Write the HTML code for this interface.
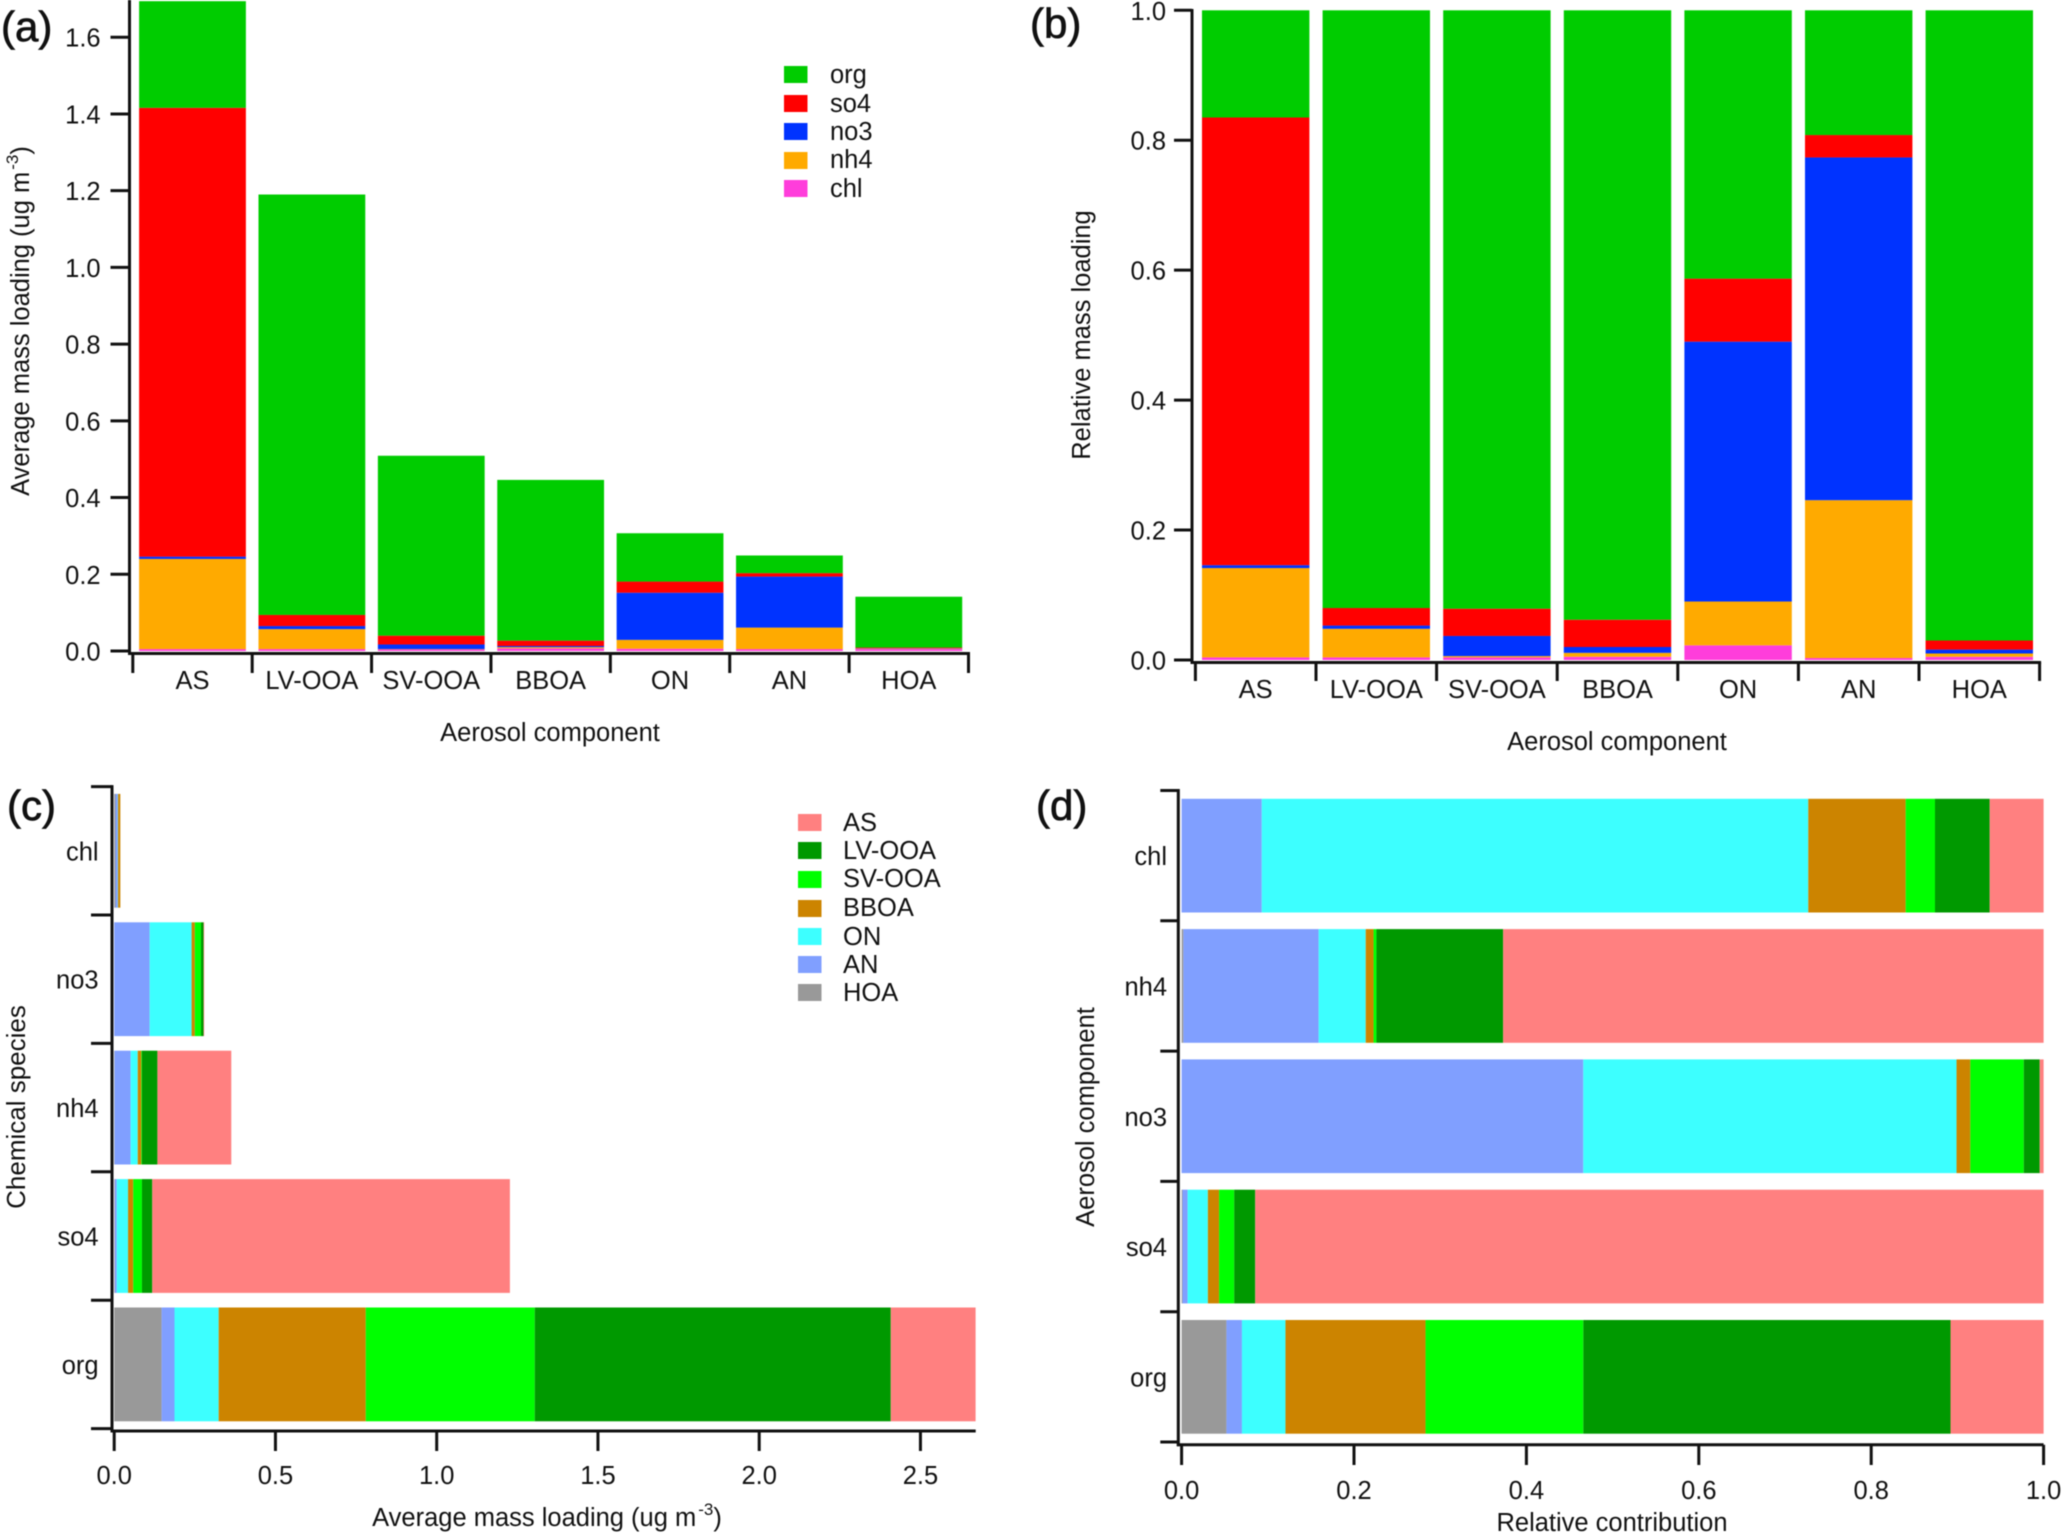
<!DOCTYPE html>
<html>
<head>
<meta charset="utf-8">
<title>Aerosol mass loading charts</title>
<style>
html,body{margin:0;padding:0;background:#fff;}
svg{display:block;filter:blur(0.6px);}
text{font-family:"Liberation Sans",sans-serif;fill:#111;}
.panel-tag{stroke:#111;stroke-width:0.7px;}
</style>
</head>
<body>
<svg id="figure" xmlns="http://www.w3.org/2000/svg" width="2062" height="1534" viewBox="0 0 2062 1534">
<rect x="0" y="0" width="2062" height="1534" fill="#ffffff"/>
<g id="marks"></g>

<text class="panel-tag" x="1" y="41" font-size="42">(a)</text>
<text class="panel-tag" x="1030" y="38" font-size="42">(b)</text>
<text class="panel-tag" x="7" y="820" font-size="42">(c)</text>
<text class="panel-tag" x="1036" y="820" font-size="42">(d)</text>

<text transform="translate(29,321) rotate(-90)" text-anchor="middle" font-size="25.5">Average mass loading (ug m<tspan font-size="17" dx="2" dy="-11">-3</tspan><tspan dy="11">)</tspan></text>
<text x="550" y="741" text-anchor="middle" font-size="25.5">Aerosol component</text>
<text transform="translate(1090,335) rotate(-90)" text-anchor="middle" font-size="25.5">Relative mass loading</text>
<text x="1617" y="750" text-anchor="middle" font-size="25.5">Aerosol component</text>
<text transform="translate(25,1107) rotate(-90)" text-anchor="middle" font-size="26">Chemical species</text>
<text x="547" y="1526" text-anchor="middle" font-size="25.5">Average mass loading (ug m<tspan font-size="17" dx="2" dy="-11">-3</tspan><tspan dy="11">)</tspan></text>
<text transform="translate(1094,1117) rotate(-90)" text-anchor="middle" font-size="25.5">Aerosol component</text>
<text x="1612" y="1531" text-anchor="middle" font-size="25.5">Relative contribution</text>

<g font-size="25.5">
  <g><rect x="784" y="66" width="23.5" height="17" fill="#00cc00"/><text x="830" y="83">org</text></g>
  <g><rect x="784" y="95" width="23.5" height="17" fill="#ff0000"/><text x="830" y="112">so4</text></g>
  <g><rect x="784" y="123" width="23.5" height="17" fill="#0033ff"/><text x="830" y="140">no3</text></g>
  <g><rect x="784" y="152" width="23.5" height="17" fill="#ffaa00"/><text x="830" y="168">nh4</text></g>
  <g><rect x="784" y="180" width="23.5" height="17" fill="#ff3ddb"/><text x="830" y="197">chl</text></g>
</g>
<g font-size="25.5">
  <g><rect x="798" y="814" width="23.5" height="17" fill="#ff8080"/><text x="843" y="831">AS</text></g>
  <g><rect x="798" y="842" width="23.5" height="17" fill="#009900"/><text x="843" y="859">LV-OOA</text></g>
  <g><rect x="798" y="871" width="23.5" height="17" fill="#00ff00"/><text x="843" y="887">SV-OOA</text></g>
  <g><rect x="798" y="900" width="23.5" height="17" fill="#cc8400"/><text x="843" y="916">BBOA</text></g>
  <g><rect x="798" y="928" width="23.5" height="17" fill="#3dffff"/><text x="843" y="945">ON</text></g>
  <g><rect x="798" y="956" width="23.5" height="17" fill="#809fff"/><text x="843" y="973">AN</text></g>
  <g><rect x="798" y="984" width="23.5" height="17" fill="#999999"/><text x="843" y="1001">HOA</text></g>
</g>
</svg>
<script>
// Category labels
const componentCategories = ['AS', 'LV-OOA', 'SV-OOA', 'BBOA', 'ON', 'AN', 'HOA'];
const speciesCategoriesC = ['chl', 'no3', 'nh4', 'so4', 'org'];
const speciesCategoriesD = ['chl', 'nh4', 'no3', 'so4', 'org'];

// Tick labels
const aTicks = [0, 0.2, 0.4, 0.6, 0.8, 1.0, 1.2, 1.4, 1.6];
const bTicks = [0, 0.2, 0.4, 0.6, 0.8, 1.0];
const cTicks = [0, 0.5, 1.0, 1.5, 2.0, 2.5];
const dTicks = [0, 0.2, 0.4, 0.6, 0.8, 1.0];

// Panel (a): mass loading per component, bottom to top
const aChl = [0.005, 0.005, 0.004, 0.007, 0.006, 0.005, 0.005];
const aNh4 = [0.235, 0.052, 0.001, 0.003, 0.023, 0.056, 0.001];
const aNo3 = [0.006, 0.008, 0.012, 0.003, 0.123, 0.133, 0.001];
const aSo4 = [1.17, 0.029, 0.023, 0.014, 0.029, 0.009, 0.002];
const aOrg = [0.278, 1.096, 0.469, 0.419, 0.126, 0.046, 0.1325];

// Panel (b): relative mass loading per component
const bChl = [0.004, 0.004, 0.004, 0.005, 0.0226, 0.003, 0.005];
const bNh4 = [0.1375, 0.044, 0.002, 0.006, 0.0674, 0.243, 0.005];
const bNo3 = [0.0045, 0.005, 0.031, 0.009, 0.4, 0.5275, 0.006];
const bSo4 = [0.689, 0.027, 0.042, 0.042, 0.097, 0.0345, 0.014];
const bOrg = [0.165, 0.92, 0.921, 0.938, 0.413, 0.192, 0.97];

// Panel (c): mass loading per species (chl, no3, nh4, so4, org), left to right
const cHoa = [0.004, 0, 0.001, 0.002, 0.147];
const cAn = [0.007, 0.11, 0.05, 0.006, 0.04];
const cOn = [0.001, 0.13, 0.022, 0.035, 0.137];
const cBboa = [0.007, 0.01, 0.011, 0.016, 0.456];
const cSv = [0, 0.019, 0.002, 0.027, 0.524];
const cLv = [0, 0.008, 0.048, 0.032, 1.104];
const cAs = [0, 0.002, 0.229, 1.109, 0.263];

// Panel (d): relative contribution per species (chl, nh4, no3, so4, org)
const dHoa = [0, 0.002, 0, 0.001, 0.052];
const dAn = [0.093, 0.157, 0.466, 0.006, 0.018];
const dOn = [0.634, 0.0546, 0.433, 0.0235, 0.0505];
const dBboa = [0.113, 0.0091, 0.016, 0.013, 0.1625];
const dSv = [0.034, 0.0033, 0.062, 0.0175, 0.183];
const dLv = [0.0635, 0.147, 0.0185, 0.0244, 0.426];
const dAs = [0.0625, 0.627, 0.0045, 0.9146, 0.108];

const NS = 'http://www.w3.org/2000/svg';
const root = document.getElementById('marks');
const INK = '#111';

function line(x1, y1, x2, y2, w, name) {
  const el = document.createElementNS(NS, 'line');
  el.setAttribute('x1', x1);
  el.setAttribute('y1', y1);
  el.setAttribute('x2', x2);
  el.setAttribute('y2', y2);
  el.setAttribute('stroke', INK);
  el.setAttribute('stroke-width', w);
  
  
  root.appendChild(el);
}
function label(x, y, str, anchor, name) {
  const el = document.createElementNS(NS, 'text');
  el.setAttribute('x', x);
  el.setAttribute('y', y);
  el.setAttribute('text-anchor', anchor);
  el.setAttribute('font-size', '25.5');
  el.textContent = str;
  
  
  root.appendChild(el);
}
function box(x, y, w, h, fill, name) {
  const el = document.createElementNS(NS, 'rect');
  el.setAttribute('x', x);
  el.setAttribute('y', y);
  el.setAttribute('width', Math.max(w, 0));
  el.setAttribute('height', Math.max(h, 0));
  el.setAttribute('fill', fill);
  
  
  root.appendChild(el);
}

// Vertical stacked bar panel (a, b)
function columnPanel(p) {
  const y = v => p.y0 - (v - 0) * p.yPerUnit;
  const step = (p.xEnd - p.xStart) / p.categories.length;
  p.categories.forEach((cat, i) => {
    let sum = 0;
    const left = p.xStart + step * i + p.inset;
    p.series.forEach(s => {
      const v = s.values[i];
      box(left, y(sum + v), step - 2 * p.inset, y(sum) - y(sum + v), s.color, p.id + '-bar-' + cat + '-' + s.name);
      sum += v;
    });
    line(p.xStart + step * i, p.axisY, p.xStart + step * i, p.tickEnd, 3, p.id + '-x-tick-' + i);
    label(p.xStart + step * (i + 0.5), p.labelY, cat, 'middle', p.id + '-x-label-' + cat);
  });
  line(p.xStart + step * p.categories.length, p.axisY, p.xStart + step * p.categories.length, p.tickEnd, 3, p.id + '-x-tick-end');
  line(p.axisX - 1.5, p.axisY, p.xStart + step * p.categories.length + 1.5, p.axisY, 3, p.id + '-x-axis');
  line(p.axisX, p.yTop, p.axisX, p.axisY + 1.5, 3, p.id + '-y-axis');
  p.ticks.forEach(t => {
    line(p.axisX - p.tickLen, y(t), p.axisX, y(t), 3, p.id + '-y-tick-' + t.toFixed(1));
    label(p.labelX, y(t) + 9.5, t.toFixed(1), 'end', p.id + '-y-label-' + t.toFixed(1));
  });
}

// Horizontal stacked bar panel (c, d)
function rowPanel(p) {
  const x = v => p.x0 + v * p.xPerUnit;
  const step = (p.yEnd - p.yStart) / p.categories.length;
  p.categories.forEach((cat, i) => {
    let sum = 0;
    const top = p.yStart + step * i + p.inset;
    p.series.forEach(s => {
      const v = s.values[i];
      box(x(sum), top, x(sum + v) - x(sum), step - 2 * p.inset, s.color, p.id + '-bar-' + cat + '-' + s.name);
      sum += v;
    });
    line(p.axisX - p.tickLen, p.yStart + step * i, p.axisX, p.yStart + step * i, 3, p.id + '-y-tick-' + i);
    label(p.labelX, p.yStart + step * (i + 0.5) + 9.5, cat, 'end', p.id + '-y-label-' + cat);
  });
  line(p.axisX - p.tickLen, p.yEnd, p.axisX, p.yEnd, 3, p.id + '-y-tick-end');
  line(p.axisX, p.yStart - 1.5, p.axisX, p.axisY + 1.5, 3, p.id + '-y-axis');
  line(p.axisX - 1.5, p.axisY, p.xRight, p.axisY, 3, p.id + '-x-axis');
  p.ticks.forEach(t => {
    line(x(t), p.axisY, x(t), p.tickEnd, 3, p.id + '-x-tick-' + t.toFixed(1));
    label(x(t), p.labelY, t.toFixed(1), 'middle', p.id + '-x-label-' + t.toFixed(1));
  });
}

const GREEN = '#00cc00', RED = '#ff0000', BLUE = '#0033ff', ORANGE = '#ffaa00', PINK = '#ff3ddb';
const ASC = '#ff8080', LVC = '#009900', SVC = '#00ff00', BBC = '#cc8400', ONC = '#3dffff', ANC = '#809fff', HOC = '#999999';

columnPanel({
  id: 'a', categories: componentCategories, ticks: aTicks,
  series: [
    {name: 'chl', color: PINK, values: aChl},
    {name: 'nh4', color: ORANGE, values: aNh4},
    {name: 'no3', color: BLUE, values: aNo3},
    {name: 'so4', color: RED, values: aSo4},
    {name: 'org', color: GREEN, values: aOrg}
  ],
  y0: 651, yPerUnit: 383.6, xStart: 132.8, xEnd: 968.5, inset: 6.3,
  axisX: 129.5, axisY: 653.5, yTop: 0, tickEnd: 673, tickLen: 19, labelX: 100.6, labelY: 689
});

columnPanel({
  id: 'b', categories: componentCategories, ticks: bTicks,
  series: [
    {name: 'chl', color: PINK, values: bChl},
    {name: 'nh4', color: ORANGE, values: bNh4},
    {name: 'no3', color: BLUE, values: bNo3},
    {name: 'so4', color: RED, values: bSo4},
    {name: 'org', color: GREEN, values: bOrg}
  ],
  y0: 660, yPerUnit: 649.7, xStart: 1195.4, xEnd: 2039.6, inset: 6.6,
  axisX: 1192, axisY: 662.5, yTop: 9, tickEnd: 681, tickLen: 18, labelX: 1166, labelY: 698
});

rowPanel({
  id: 'c', categories: speciesCategoriesC, ticks: cTicks,
  series: [
    {name: 'hoa', color: HOC, values: cHoa},
    {name: 'an', color: ANC, values: cAn},
    {name: 'on', color: ONC, values: cOn},
    {name: 'bboa', color: BBC, values: cBboa},
    {name: 'sv-ooa', color: SVC, values: cSv},
    {name: 'lv-ooa', color: LVC, values: cLv},
    {name: 'as', color: ASC, values: cAs}
  ],
  x0: 114.2, xPerUnit: 322.5, yStart: 786.6, yEnd: 1428.6, inset: 7.3,
  axisX: 112, axisY: 1431, xRight: 975.7, tickEnd: 1451, tickLen: 21, labelX: 98.6, labelY: 1484
});

rowPanel({
  id: 'd', categories: speciesCategoriesD, ticks: dTicks,
  series: [
    {name: 'hoa', color: HOC, values: dHoa},
    {name: 'an', color: ANC, values: dAn},
    {name: 'on', color: ONC, values: dOn},
    {name: 'bboa', color: BBC, values: dBboa},
    {name: 'sv-ooa', color: SVC, values: dSv},
    {name: 'lv-ooa', color: LVC, values: dLv},
    {name: 'as', color: ASC, values: dAs}
  ],
  x0: 1181.6, xPerUnit: 862, yStart: 790.5, yEnd: 1442, inset: 8.3,
  axisX: 1178.3, axisY: 1444.8, xRight: 2043.6, tickEnd: 1465, tickLen: 18, labelX: 1167, labelY: 1499
});
</script>
</body>
</html>
